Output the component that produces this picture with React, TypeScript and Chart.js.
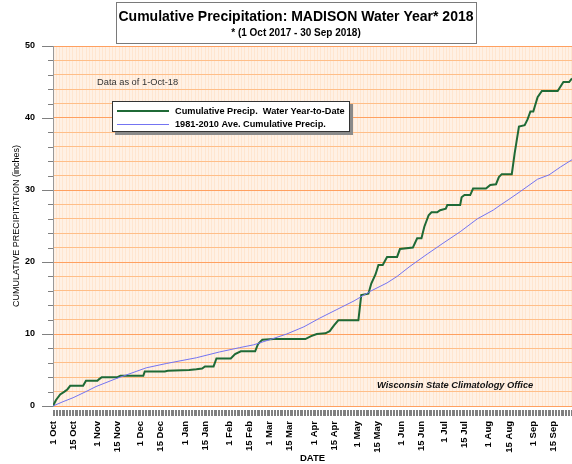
import React, { useEffect, useRef } from 'react';
import { Chart, registerables } from 'chart.js';

Chart.register(...registerables);

const FONT = "'Liberation Sans', Arial, Helvetica, sans-serif";

const titleLine1 = 'Cumulative Precipitation: MADISON Water Year* 2018';
const titleLine2 = '* (1 Oct 2017 - 30 Sep 2018)';
const noteText = 'Data as of 1-Oct-18';
const creditText = 'Wisconsin State Climatology Office';
const yAxisTitle = 'CUMULATIVE PRECIPITATION (inches)';
const xAxisTitle = 'DATE';

const seriesNames = ['Cumulative Precip.  Water Year-to-Date', '1981-2010 Ave. Cumulative Precip.'];
const seriesColors = ['#1F6A36', '#7474F2'];

// x axis: days since 1 Oct 2017
const dayMin = 0;
const dayMax = 362;
const tickDays = [0, 14, 31, 45, 61, 75, 92, 106, 123, 137, 151, 165, 182, 196, 212, 226, 243, 257, 273, 287, 304, 318, 335, 349];
const tickLabels = ['1 Oct', '15 Oct', '1 Nov', '15 Nov', '1 Dec', '15 Dec', '1 Jan', '15 Jan', '1 Feb', '15 Feb', '1 Mar', '15 Mar', '1 Apr', '15 Apr', '1 May', '15 May', '1 Jun', '15 Jun', '1 Jul', '15 Jul', '1 Aug', '15 Aug', '1 Sep', '15 Sep'];

const yMin = 0;
const yMax = 50;
const yStep = 2;
const yTickLabels = [0, 10, 20, 30, 40, 50];

// Water-year-to-date cumulative precipitation (inches)
const yearDays = [0, 2, 5, 8, 10, 12, 21, 23, 31, 32, 34, 45, 47, 63, 64, 78, 80, 95, 100, 104, 106, 112, 114, 124, 127, 131, 141, 143, 146, 154, 176, 180, 184, 190, 193, 196, 199, 213, 215, 220, 222, 225, 227, 230, 233, 240, 242, 251, 254, 257, 259, 262, 264, 268, 270, 274, 275, 284, 285, 287, 291, 293, 302, 305, 309, 311, 313, 320, 322, 325, 329, 331, 333, 335, 338, 341, 352, 356, 360, 362];
const yearPrecip = [0, 0.8, 1.6, 2.0, 2.3, 2.8, 2.8, 3.5, 3.5, 3.7, 4.0, 4.0, 4.2, 4.2, 4.8, 4.8, 4.9, 5.0, 5.1, 5.2, 5.5, 5.5, 6.6, 6.6, 7.2, 7.6, 7.6, 8.6, 9.2, 9.3, 9.3, 9.7, 10.0, 10.1, 10.4, 11.2, 11.9, 11.9, 15.4, 15.6, 17.0, 18.3, 19.6, 19.6, 20.7, 20.7, 21.8, 22.0, 23.3, 23.3, 24.9, 26.5, 26.9, 26.9, 27.2, 27.4, 27.9, 27.9, 29.0, 29.3, 29.3, 30.2, 30.2, 30.7, 30.8, 31.8, 32.2, 32.2, 35.1, 38.8, 39.0, 39.8, 40.9, 40.9, 42.9, 43.75, 43.75, 45.0, 45.0, 45.5];

// 1981-2010 average cumulative precipitation (inches)
const avgDays = [0, 7, 14, 23, 30, 44, 58, 65, 79, 100, 116, 130, 140, 151, 163, 175, 186, 198, 210, 221, 233, 240, 249, 261, 272, 284, 296, 307, 312, 318, 326, 338, 346, 354, 362];
const avgPrecip = [0, 0.6, 1.15, 2.0, 2.7, 3.8, 4.8, 5.3, 5.9, 6.7, 7.5, 8.1, 8.5, 9.2, 10.0, 11.0, 12.2, 13.4, 14.6, 15.9, 17.1, 18.0, 19.4, 21.1, 22.6, 24.2, 26.0, 27.2, 27.9, 28.7, 29.8, 31.5, 32.1, 33.2, 34.2];

const decorPlugin = {
  id: 'decor',
  beforeDraw(chart: any) {
    const { ctx, chartArea: a } = chart;
    ctx.save();
    ctx.fillStyle = '#FFE6D0';
    ctx.fillRect(a.left, a.top, a.right - a.left, a.bottom - a.top);
    ctx.restore();
  },
  afterDraw(chart: any) {
    const { ctx, chartArea: a, scales } = chart;
    const xs = scales.x;
    const ys = scales.y;
    ctx.save();
    // daily tick marks below the plot
    ctx.strokeStyle = '#808080';
    ctx.lineWidth = 1;
    ctx.beginPath();
    xs.ticks.forEach((t: any) => {
      const px = Math.round(xs.getPixelForValue(t.value)) + 0.5;
      ctx.moveTo(px, a.bottom + 4);
      ctx.lineTo(px, a.bottom + 10);
    });
    ctx.stroke();
    // y tick marks
    ctx.beginPath();
    ys.ticks.forEach((t: any) => {
      const py = Math.round(ys.getPixelForValue(t.value)) + 0.5;
      const len = yTickLabels.includes(t.value) ? 11 : 5;
      ctx.moveTo(a.left - len, py);
      ctx.lineTo(a.left, py);
    });
    ctx.stroke();

    // title box
    ctx.fillStyle = '#ffffff';
    ctx.fillRect(116.5, 2.5, 360, 41);
    ctx.strokeStyle = '#7a7a7a';
    ctx.strokeRect(116.5, 2.5, 360, 41);
    ctx.fillStyle = '#000';
    ctx.textAlign = 'center';
    ctx.textBaseline = 'middle';
    ctx.font = `bold 14px ${FONT}`;
    ctx.fillText(titleLine1, 296, 17);
    ctx.font = `bold 10px ${FONT}`;
    ctx.fillText(titleLine2, 296, 33);

    // note text
    ctx.textAlign = 'left';
    ctx.fillStyle = '#333';
    ctx.font = `9.3px ${FONT}`;
    ctx.fillText(noteText, 97, 82);

    // credit
    ctx.fillStyle = '#111';
    ctx.font = `italic bold 9.3px ${FONT}`;
    ctx.fillText(creditText, 377, 385);

    // legend
    ctx.fillStyle = '#8a8a8a';
    ctx.fillRect(115, 104, 238, 31);
    ctx.fillStyle = '#fff';
    ctx.fillRect(112, 101, 238, 31);
    ctx.strokeStyle = '#333';
    ctx.lineWidth = 1;
    ctx.strokeRect(112.5, 101.5, 237, 30);
    chart.data.datasets.forEach((ds: any) => {
      const idx = ds.legendIndex;
      const ly = idx === 0 ? 111 : 124.5;
      ctx.strokeStyle = ds.borderColor;
      ctx.lineWidth = ds.borderWidth;
      ctx.beginPath();
      ctx.moveTo(117, ly);
      ctx.lineTo(169, ly);
      ctx.stroke();
      ctx.fillStyle = '#000';
      ctx.font = `bold 9.2px ${FONT}`;
      ctx.fillText(ds.label, 175, ly);
    });
    ctx.restore();
  },
};

export default function App() {
  const ref = useRef<HTMLCanvasElement | null>(null);
  useEffect(() => {
    if (!ref.current) return;
    const chart = new Chart(ref.current, {
      type: 'line',
      data: {
        datasets: [
          {
            label: seriesNames[1],
            legendIndex: 1,
            data: avgDays.map((d, i) => ({ x: d, y: avgPrecip[i] })),
            borderColor: seriesColors[1],
            borderWidth: 1,
            pointRadius: 0,
            tension: 0,
            order: 0,
          } as any,
          {
            label: seriesNames[0],
            legendIndex: 0,
            data: yearDays.map((d, i) => ({ x: d, y: yearPrecip[i] })),
            borderColor: seriesColors[0],
            borderWidth: 2,
            pointRadius: 0,
            tension: 0,
            order: 1,
          } as any,
        ],
      },
      options: {
        responsive: false,
        animation: false,
        devicePixelRatio: 1,
        layout: { padding: { top: 46, left: 0, right: 0, bottom: 0 } },
        plugins: {
          legend: { display: false },
          tooltip: { enabled: false },
          title: { display: false },
        },
        scales: {
          x: {
            type: 'linear',
            min: dayMin,
            max: dayMax,
            afterBuildTicks: (s: any) => {
              const t = [];
              for (let d = dayMin; d <= dayMax; d++) t.push({ value: d });
              s.ticks = t;
            },
            afterFit: (s: any) => {
              s.height = 58;
              s.paddingLeft = 0;
              s.paddingRight = 0;
            },
            ticks: {
              autoSkip: false,
              maxRotation: 90,
              minRotation: 90,
              padding: 15,
              color: '#000',
              font: { family: FONT, size: 9.5, weight: 'bold' },
              callback: (v: any) => {
                const i = tickDays.indexOf(v);
                return i >= 0 ? tickLabels[i] : '';
              },
            },
            grid: {
              color: 'rgba(255,255,255,0.45)',
              lineWidth: 1,
              drawTicks: false,
            },
            border: { display: false },
            title: {
              display: true,
              text: xAxisTitle,
              color: '#000',
              font: { family: FONT, size: 9.5, weight: 'bold' },
              padding: { top: 0, bottom: 0 },
            },
          },
          y: {
            type: 'linear',
            min: yMin,
            max: yMax,
            afterFit: (s: any) => {
              s.width = 53;
              s.paddingTop = 0;
              s.paddingBottom = 0;
            },
            ticks: {
              stepSize: yStep,
              autoSkip: false,
              padding: 18,
              color: '#000',
              font: { family: FONT, size: 9, weight: 'bold' },
              callback: (v: any) => (yTickLabels.includes(v) ? String(v) : ''),
            },
            grid: {
              color: (c: any) => (c.tick && c.tick.value % 10 === 0 ? '#FFA060' : '#FFBE88'),
              lineWidth: 1,
              drawTicks: false,
            },
            border: { display: true, color: '#999', width: 1 },
            title: {
              display: true,
              text: yAxisTitle,
              color: '#000',
              font: { family: FONT, size: 9, weight: 'normal' },
              padding: { top: 11, bottom: 0 },
            },
          },
        },
      },
      plugins: [decorPlugin],
    } as any);
    return () => chart.destroy();
  }, []);
  return (
    <div style={{ position: 'absolute', left: 0, top: 0, width: 572, height: 464, background: '#fff' }}>
      <canvas ref={ref} width={572} height={464} />
    </div>
  );
}
